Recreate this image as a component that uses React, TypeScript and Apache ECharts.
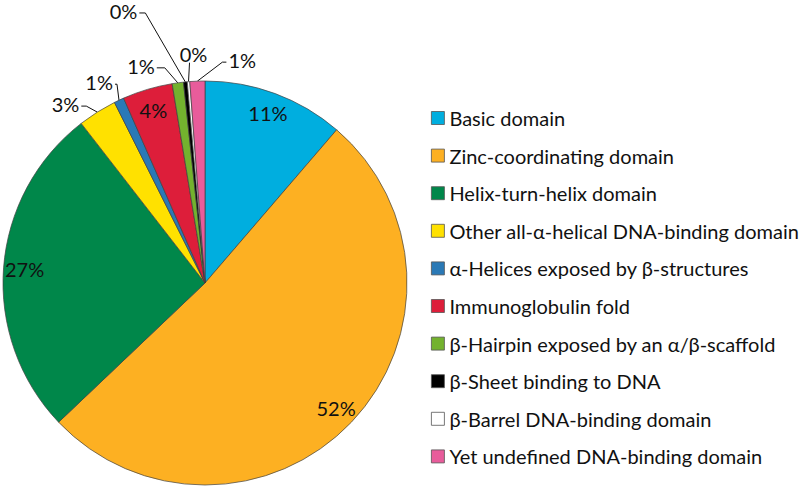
import React, { useEffect, useRef } from 'react';
import * as echarts from 'echarts';

// ---- data ----
const categories = [
  'Basic domain',
  'Zinc-coordinating domain',
  'Helix-turn-helix domain',
  'Other all-α-helical DNA-binding domain',
  'α-Helices exposed by β-structures',
  'Immunoglobulin fold',
  'β-Hairpin exposed by an α/β-scaffold',
  'β-Sheet binding to DNA',
  'β-Barrel DNA-binding domain',
  'Yet undefined DNA-binding domain',
];
const shares = [11.3, 51.6, 26.6, 3.1, 0.8, 4.0, 0.9, 0.3, 0.2, 1.2];

// ---- style ----
const colors = ['#00AEDF', '#FDB022', '#00874A', '#FFE100', '#2A79B6', '#DD1E3A', '#73B22E', '#000000', '#FFFFFF', '#E85C9B'];
const insideLabel = [true, true, true, false, false, true, false, false, false, false];
// leader end offset from slice edge point, stub length, side ('l' | 'r' | 't')
const leaders: Record<number, { dx: number; dy: number; stub: number; side: string }> = {
  3: { dx: -16, dy: -6, stub: 5, side: 'l' },
  4: { dx: -4, dy: -16, stub: 2, side: 'l' },
  6: { dx: -21, dy: -15, stub: 8, side: 'l' },
  7: { dx: -46, dy: -69, stub: 6, side: 'l' },
  8: { dx: 1, dy: -19, stub: 0, side: 't' },
  9: { dx: 29, dy: -19, stub: 4, side: 'r' },
};
const CENTER = [205, 283];
const RADIUS = 202;
const FONT = 'Lato';
const FONT_SIZE = 20;

export default function App() {
  const ref = useRef<HTMLDivElement>(null);
  useEffect(() => {
    document.body.style.margin = '0';
    const chart = echarts.init(ref.current!, null, { renderer: 'svg' });
    const data = categories.map((name, i) => ({
      name,
      value: shares[i],
      itemStyle: { color: colors[i] },
      label: { position: insideLabel[i] ? 'inside' : 'outside' },
      labelLine: { show: !insideLabel[i], length: 10, length2: 5 },
    }));
    chart.setOption({
      animation: false,
      backgroundColor: '#ffffff',
      legend: {
        orient: 'vertical',
        left: 431,
        top: 108,
        padding: 0,
        itemWidth: 13,
        itemHeight: 13,
        itemGap: 17.6,
        icon: 'rect',
        selectedMode: false,
        itemStyle: { borderColor: '#555555', borderWidth: 0.8 },
        textStyle: { fontFamily: FONT, fontSize: FONT_SIZE, color: '#111111' },
        data: categories,
      },
      series: [
        {
          type: 'pie',
          center: CENTER,
          radius: RADIUS,
          startAngle: 90,
          clockwise: true,
          avoidLabelOverlap: false,
          itemStyle: { borderColor: '#404040', borderWidth: 0.7 },
          label: {
            fontFamily: FONT,
            fontSize: FONT_SIZE,
            color: '#111111',
            formatter: (p: any) => Math.round(p.percent) + '%',
          },
          labelLine: { lineStyle: { color: '#111111', width: 1 } },
          labelLayout: (p: any) => {
            const i = p.dataIndex;
            if (insideLabel[i]) {
              const r = p.labelRect;
              const lx = r.x + r.width / 2;
              const ly = r.y + r.height / 2;
              const k = 1.74;
              return {
                x: CENTER[0] + (lx - CENTER[0]) * k,
                y: CENTER[1] + (ly - CENTER[1]) * k,
                align: 'center',
                verticalAlign: 'middle',
              };
            }
            const L = leaders[i];
            const pts = p.labelLinePoints;
            if (!L || !pts) return {};
            const p0 = pts[0];
            const end = [p0[0] + L.dx, p0[1] + L.dy];
            if (L.side === 't') {
              return {
                x: end[0] + 4,
                y: end[1] + 1,
                align: 'center',
                verticalAlign: 'bottom',
                labelLinePoints: [p0, end, end],
              };
            }
            const sgn = L.side === 'l' ? 1 : -1;
            const elbow = [end[0] + sgn * L.stub, end[1]];
            return {
              x: end[0] - sgn * 2,
              y: end[1] - 2,
              align: L.side === 'l' ? 'right' : 'left',
              verticalAlign: 'middle',
              labelLinePoints: [p0, elbow, end],
            };
          },
          data,
        },
      ],
    });
    return () => chart.dispose();
  }, []);
  return <div ref={ref} style={{ width: 800, height: 488 }} />;
}
